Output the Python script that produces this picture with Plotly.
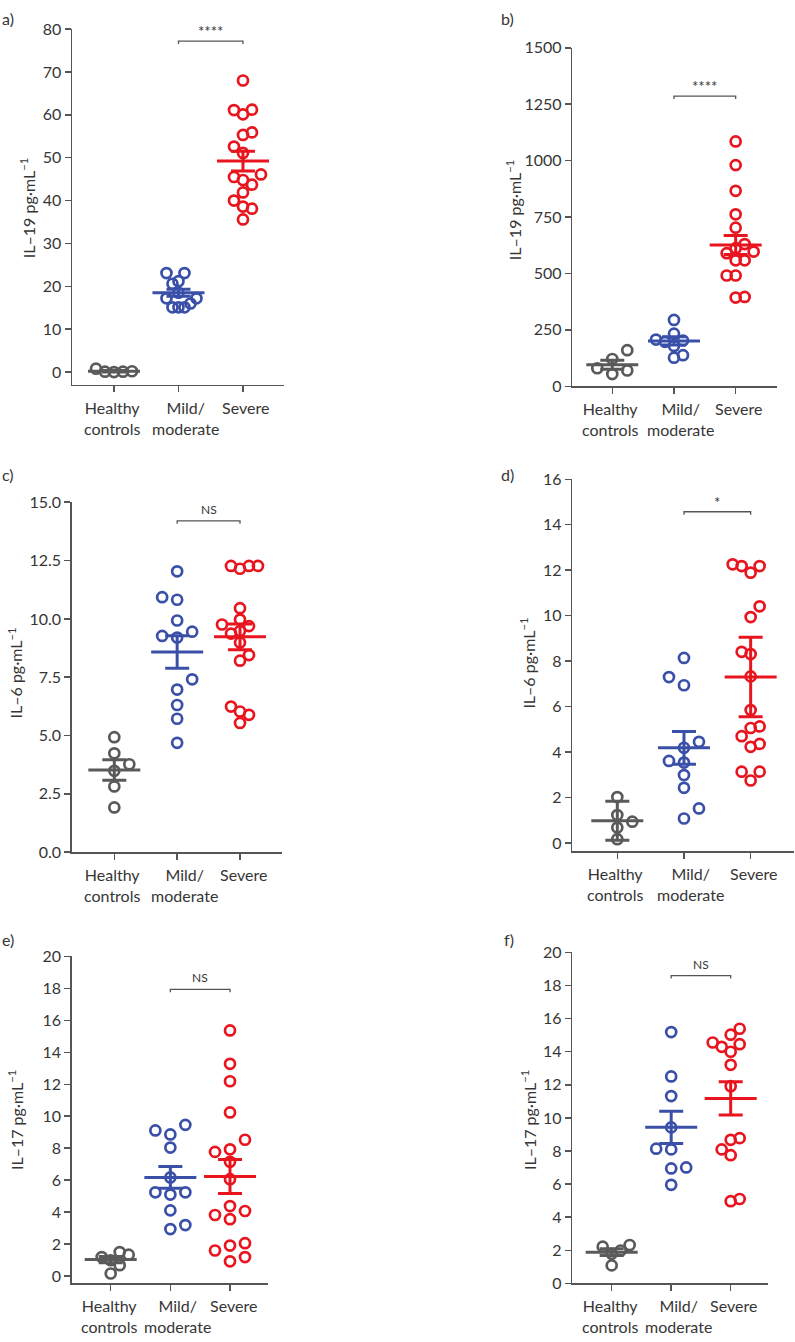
import math
import plotly.graph_objects as go

# ---------------- data ----------------
categories = ["Healthy<br>controls", "Mild/<br>moderate", "Severe"]

a_healthy = [0.8, 0.1, 0.0, 0.2, 0.1]
a_mild = [23.1, 23.1, 20.6, 21.2, 18.5, 17.2, 17.2, 16.0, 15.1, 15.1, 15.1]
a_severe = [68.0, 61.2, 61.1, 60.1, 55.9, 55.3, 52.6, 51.1, 46.1, 45.5, 44.8, 43.7,
            41.9, 40.0, 38.6, 38.1, 35.6]
a_mean = [0.2, 18.5, 49.2]
a_sem = [0.15, 0.8, 2.3]

b_healthy = [160, 121, 80, 54, 70]
b_mild = [294, 233, 207, 203, 197, 179, 138, 127]
b_severe = [1085, 980, 866, 762, 703, 630, 612, 597, 590, 558, 558, 491, 491, 393, 396]
b_mean = [95, 201, 626]
b_sem = [20, 18, 42]

c_healthy = [4.93, 4.24, 3.77, 3.49, 2.82, 1.92]
c_mild = [12.04, 10.82, 10.93, 9.93, 9.27, 9.20, 9.45, 7.41, 6.97, 6.31, 5.72, 4.69]
c_severe = [12.27, 12.15, 12.27, 12.27, 10.46, 9.97, 9.69, 9.76, 9.37, 9.48, 8.99, 8.45,
            8.21, 6.24, 6.03, 5.89, 5.54]
c_mean = [3.52, 8.58, 9.23]
c_sem = [0.44, 0.70, 0.55]

d_healthy = [2.02, 0.94, 1.23, 0.68, 0.17]
d_mild = [8.14, 7.30, 6.94, 4.19, 4.45, 3.54, 3.61, 2.99, 2.43, 1.52, 1.08]
d_severe = [12.18, 11.89, 12.18, 12.26, 10.41, 9.94, 8.31, 8.41, 7.33, 5.85, 5.13, 5.06,
            4.70, 4.36, 4.23, 2.75, 3.14, 3.14]
d_mean = [0.98, 4.19, 7.30]
d_sem = [0.86, 0.72, 1.75]

e_healthy = [0.99, 1.34, 1.50, 1.19, 0.68, 0.16]
e_mild = [9.46, 9.11, 8.86, 8.04, 6.17, 5.24, 5.10, 5.24, 4.11, 3.19, 2.94]
e_severe = [15.37, 13.28, 12.19, 10.24, 8.53, 7.93, 7.77, 7.15, 6.06, 4.38, 3.82, 4.07,
            3.56, 2.06, 1.91, 1.60, 1.19, 0.92]
e_mean = [1.03, 6.17, 6.23]
e_sem = [0.20, 0.68, 1.06]

f_healthy = [2.32, 2.22, 1.99, 1.79, 1.09]
f_mild = [15.19, 12.51, 11.32, 9.43, 8.14, 8.10, 7.01, 6.95, 5.96]
f_severe = [15.39, 15.03, 14.56, 14.30, 14.46, 14.00, 13.21, 11.92, 8.68, 8.78, 8.10,
            7.75, 4.97, 5.10]
f_mean = [1.89, 9.43, 11.18]
f_sem = [0.20, 0.98, 1.00]

sig_labels = ["****", "****", "NS", "*", "NS", "NS"]
sig_levels = [77.2, 1286, 14.2, 14.57, 17.94, 18.6]

y_titles = ["IL–19 pg·mL<sup>−1</sup>", "IL–19 pg·mL<sup>−1</sup>",
            "IL–6 pg·mL<sup>−1</sup>", "IL–6 pg·mL<sup>−1</sup>",
            "IL–17 pg·mL<sup>−1</sup>", "IL–17 pg·mL<sup>−1</sup>"]
panel_labels = ["a)", "b)", "c)", "d)", "e)", "f)"]

# ---------------- styling / layout ----------------
W, H = 795, 1342
COLORS = ["#5a5a5a", "#3a50a8", "#e8141e"]
AXIS_COLOR = "#555555"
TEXT_COLOR = "#363636"
FONT = "Lato"
CAT_SHIFT = [-2, 7, 3]   # px horizontal nudges of category labels

layout_specs = [
    dict(box=(72, 284, 19.3, 380), yr=(-2.92, 80), xr=(-0.651, 2.636), step=10, fmt="d",
         lab=(0, 9), tit=(27, 201)),
    dict(box=(572.3, 776.7, 38.3, 381.7), yr=(0, 1500), xr=(-0.648, 2.665), step=250, fmt="d",
         lab=(499, 9), tit=(513, 203)),
    dict(box=(71.7, 282.3, 499.3, 854.3), yr=(0, 15), xr=(-0.678, 2.673), step=2.5, fmt=".1f",
         lab=(0, 471), tit=(15, 673)),
    dict(box=(572.3, 794, 476, 853.3), yr=(-0.36, 16), xr=(-0.675, 2.65), step=2, fmt="d",
         lab=(499, 471), tit=(528, 663)),
    dict(box=(71.7, 268.3, 960, 1291.7), yr=(-0.46, 20), xr=(-0.654, 2.642), step=2, fmt="d",
         lab=(0, 943), tit=(15, 1126)),
    dict(box=(572.3, 768.3, 956, 1291.7), yr=(0, 20), xr=(-0.662, 2.632), step=2, fmt="d",
         lab=(502, 943), tit=(528, 1126)),
]

panel_data = [
    ((a_healthy, a_mild, a_severe), a_mean, a_sem),
    ((b_healthy, b_mild, b_severe), b_mean, b_sem),
    ((c_healthy, c_mild, c_severe), c_mean, c_sem),
    ((d_healthy, d_mild, d_severe), d_mean, d_sem),
    ((e_healthy, e_mild, e_severe), e_mean, e_sem),
    ((f_healthy, f_mild, f_severe), f_mean, f_sem),
]

MARKER_SIZE = 10
MARKER_LW = 2.7
SLOT_W = 15.0        # px between swarm columns
SLOT_D = 11.5        # min vertical px gap inside one column
SWARM_MAX = 18.0     # px max half-width of a swarm
MEAN_HALF = 26.0     # px
CAP_HALF = 12.0      # px


def swarm_offsets(values, ypx):
    """Column-slot beeswarm (Prism-like): x offsets in px for each value."""
    n = len(values)
    order = sorted(range(n), key=lambda i: values[i])
    cols = {}
    slots = [0] * n
    flip = 1
    for i in order:
        y = values[i] * ypx
        cand = [0]
        for k in range(1, 10):
            cand += [flip * k, -flip * k]
        for s in cand:
            if all(abs(y - yy) >= SLOT_D for yy in cols.get(s, [])):
                cols.setdefault(s, []).append(y)
                slots[i] = s
                if s != 0:
                    flip = -flip
                break
    offs = [s * SLOT_W for s in slots]
    mx = max(abs(o) for o in offs)
    if mx > SWARM_MAX:
        offs = [o * SWARM_MAX / mx for o in offs]
    return offs


fig = go.Figure()
annotations = []

for p, (spec, (groups, means, sems)) in enumerate(zip(layout_specs, panel_data)):
    idx = "" if p == 0 else str(p + 1)
    xa, ya = "x" + idx, "y" + idx
    L, R, T, B = spec["box"]
    y0, y1 = spec["yr"]
    x0, x1 = spec["xr"]
    ypx = (B - T) / (y1 - y0)
    xpx = (R - L) / (x1 - x0)

    for g, vals in enumerate(groups):
        offs = swarm_offsets(vals, ypx)
        fig.add_trace(go.Scatter(
            x=[g + o / xpx for o in offs], y=vals, xaxis=xa, yaxis=ya,
            mode="markers", showlegend=False, hoverinfo="y", cliponaxis=False,
            marker=dict(symbol="circle", size=MARKER_SIZE, color="rgba(0,0,0,0)",
                        line=dict(color=COLORS[g], width=MARKER_LW))))
    for g in range(3):
        m, s = means[g], sems[g]
        mh, ch = MEAN_HALF / xpx, CAP_HALF / xpx
        fig.add_trace(go.Scatter(
            x=[g - mh, g + mh, None, g, g, None, g - ch, g + ch, None, g - ch, g + ch],
            y=[m, m, None, m - s, m + s, None, m + s, m + s, None, m - s, m - s],
            xaxis=xa, yaxis=ya, mode="lines", showlegend=False, hoverinfo="skip",
            cliponaxis=False, line=dict(color=COLORS[g], width=3)))
    lv = sig_levels[p]
    t = 3.0 / ypx
    fig.add_trace(go.Scatter(
        x=[1, 1, 2, 2], y=[lv - t, lv, lv, lv - t], xaxis=xa, yaxis=ya, mode="lines",
        showlegend=False, hoverinfo="skip", cliponaxis=False,
        line=dict(color="#555555", width=1.3)))
    is_ns = sig_labels[p] == "NS"
    annotations.append(dict(
        x=1.5, y=lv, xref=xa, yref=ya, text=sig_labels[p], showarrow=False,
        yanchor="bottom", yshift=2 if is_ns else -1,
        font=dict(family=FONT, size=12 if is_ns else 15, color=TEXT_COLOR)))

    for g in range(3):
        annotations.append(dict(
            x=g, y=1 - B / H, xref=xa, yref="paper", text=categories[g],
            showarrow=False, xanchor="center", yanchor="top", yshift=-11,
            xshift=CAT_SHIFT[g], align="center",
            font=dict(family=FONT, size=16, color=TEXT_COLOR)))

    fig.layout["xaxis" + idx] = dict(
        domain=[L / W, R / W], range=[x0, x1], anchor=ya,
        tickmode="array", tickvals=[0, 1, 2], showticklabels=False,
        showline=True, linecolor=AXIS_COLOR, linewidth=1.5,
        ticks="outside", ticklen=6, tickwidth=1.5, tickcolor=AXIS_COLOR,
        showgrid=False, zeroline=False, fixedrange=True)
    step = spec["step"]
    tv = []
    k = 0
    while k * step <= y1 + 1e-9:
        tv.append(k * step)
        k += 1
    fig.layout["yaxis" + idx] = dict(
        domain=[1 - B / H, 1 - T / H], range=[y0, y1], anchor=xa,
        tickmode="array", tickvals=tv, tickformat=spec["fmt"],
        showline=True, linecolor=AXIS_COLOR, linewidth=1.5,
        ticks="outside", ticklen=6, tickwidth=1.5, tickcolor=AXIS_COLOR,
        showgrid=False, zeroline=False, fixedrange=True,
        tickfont=dict(family=FONT, size=16, color=TEXT_COLOR))

    tx, ty = spec["tit"]
    annotations.append(dict(
        x=tx / W, y=1 - ty / H, xref="paper", yref="paper", text=y_titles[p],
        textangle=-90, showarrow=False, xanchor="center", yanchor="middle",
        font=dict(family=FONT, size=16, color=TEXT_COLOR)))
    lx, ly = spec["lab"]
    annotations.append(dict(
        x=lx / W, y=1 - ly / H, xref="paper", yref="paper", text=panel_labels[p],
        showarrow=False, xanchor="left", yanchor="middle",
        font=dict(family=FONT, size=16, color=TEXT_COLOR)))

fig.update_layout(
    width=W, height=H, margin=dict(l=0, r=0, t=0, b=0),
    paper_bgcolor="white", plot_bgcolor="white",
    annotations=annotations, hovermode=False,
    font=dict(family=FONT, color=TEXT_COLOR))

fig.write_html("out.html", config={"displayModeBar": False, "staticPlot": True},
               post_script="document.body.style.margin='0px';")
